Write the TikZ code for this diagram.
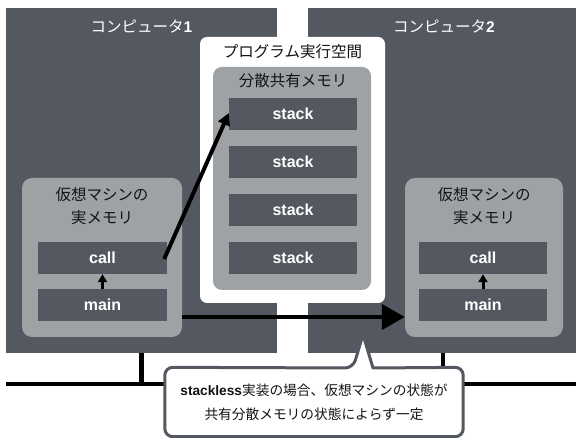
\documentclass[tikz,border=0pt]{standalone}
\usepackage{fontspec}
\setmainfont{Noto Sans CJK JP}
\newfontfamily\lat{Liberation Sans}
\usetikzlibrary{arrows.meta,calc}

\definecolor{slate}{RGB}{84,88,96}
\definecolor{pale}{RGB}{158,162,165}
\definecolor{ink}{RGB}{20,20,20}

\newcommand{\bl}[1]{{\lat\bfseries #1}}

\tikzset{
  comp/.style={fill=slate, draw=none, inner sep=0, minimum width=#1},
  head/.style={text=white, font=\fontsize{15.5}{18}\selectfont, inner sep=0},
  space/.style={fill=white, rounded corners=7, inner sep=0},
  shared/.style={fill=pale, rounded corners=9, inner sep=0},
  vm/.style={fill=pale, rounded corners=10, inner sep=0, minimum width=#1, minimum height=159},
  cell/.style={fill=slate, text=white, inner sep=0, minimum width=#1, minimum height=32,
               font=\fontsize{16}{18}\selectfont\lat\bfseries},
  jtext/.style={text=ink, font=\fontsize{15.5}{18}\selectfont, inner sep=0},
  thick arrow/.style={line width=4.5, draw=black},
  bus/.style={line width=4.5, draw=black},
  noteline/.style={draw=slate, fill=white, line width=3, line join=round},
}

\begin{document}
\begin{tikzpicture}[x=1pt,y=-1pt]
\useasboundingbox (0,0) rectangle (576,438);

% two computers
\node[comp=271, minimum height=345] (pc1) at (141.5,180.5) {};
\node[comp=268, minimum height=345] (pc2) at (442,180.5) {};
\node[head] (pc1t) at (141.5,27) {コンピュータ\bl{1}};
\node[head] (pc2t) at (444,27) {コンピュータ\bl{2}};

% bus
\coordinate (busL) at (6,384);
\coordinate (busR) at (576,384);
\draw[bus] (busL) -- (busR);
\draw[bus] (pc1.south) -- (pc1.south |- busL);
\draw[bus] ([xshift=1]pc2.south) -- ([xshift=1]pc2.south |- busL);

% program execution space with distributed shared memory
\node[space, minimum width=185, minimum height=266] (space) at (292.5,170) {};
\node[jtext] (spacet) at (292.5,52) {プログラム実行空間};
\node[shared, minimum width=158, minimum height=223] (shm) at (292,178.5) {};
\node[jtext] (shmt) at (293,81) {分散共有メモリ};
\node[cell=128] (s1) at (293,114) {stack};
\node[cell=128] (s2) at (293,162) {stack};
\node[cell=128] (s3) at (293,210) {stack};
\node[cell=128] (s4) at (293,258) {stack};

% virtual machine on computer 1
\node[vm=160] (vm1) at (102,257.5) {};
\node[jtext] (vm1a) at (102,195) {仮想マシンの};
\node[jtext] (vm1b) at (102,218) {実メモリ};
\node[cell=129] (call1) at (102.5,258) {call};
\node[cell=129] (main1) at (102.5,305) {main};
\draw[line width=3, -{Triangle[length=8, width=9]}] (main1.north) -- (call1.south);

% virtual machine on computer 2
\node[vm=158] (vm2) at (484,257.5) {};
\node[jtext] (vm2a) at (484,195) {仮想マシンの};
\node[jtext] (vm2b) at (484,218) {実メモリ};
\node[cell=128] (call2) at (483,258) {call};
\node[cell=128] (main2) at (483,305) {main};
\draw[line width=3, -{Triangle[length=8, width=9]}] (main2.north) -- (call2.south);

% call frame pushed to the shared stack
\draw[line width=4, -{Triangle[length=12, width=12]}]
  ([xshift=-3,yshift=-1]call1.east) -- ([yshift=1]s1.west);

% VM state moved to computer 2
\coordinate (mv) at (182,317);
\draw[thick arrow, -{Triangle[length=23, width=25]}] (mv) -- (vm2.west |- mv);

% callout note
\node[inner sep=0, minimum width=298, minimum height=69] (note) at (314,402) {};
\path (note.north west) coordinate (nw) (note.south east) coordinate (se);
\draw[noteline] (353,368) -- (362,338) -- (364,338) -- (373,368)
  [rounded corners=8] -- (se |- nw) -- (se) -- (nw |- se) -- (nw) -- cycle;
\node[text=ink, align=center, inner sep=0,
      font=\fontsize{13.7}{24}\selectfont] (notet) at (note.center)
  {\bl{stackless}実装の場合、仮想マシンの状態が\\共有分散メモリの状態によらず一定};
\end{tikzpicture}
\end{document}
